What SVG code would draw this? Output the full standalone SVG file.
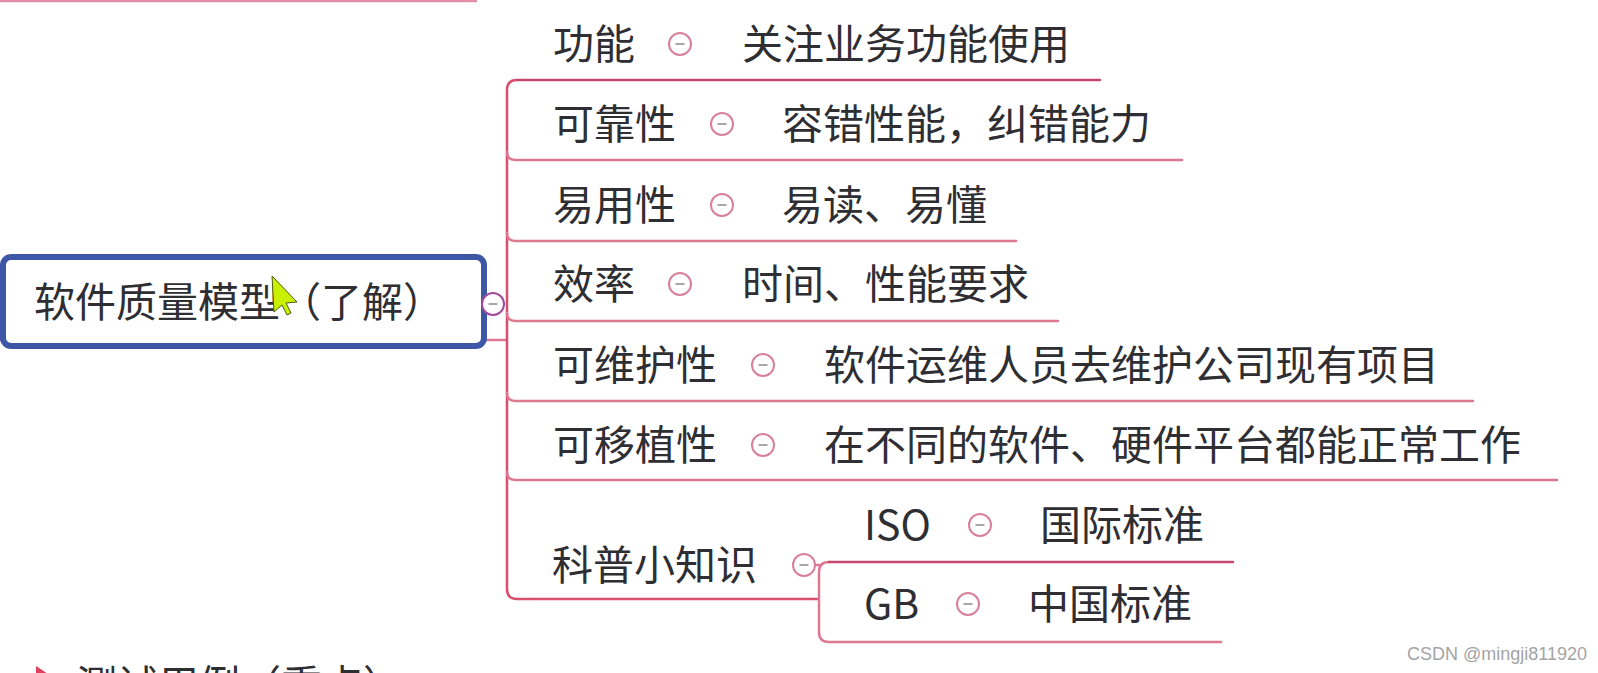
<svg xmlns="http://www.w3.org/2000/svg" width="1598" height="673" viewBox="0 0 1598 673">
  <style>
    .t { font-family: "Noto Sans CJK SC", "Noto Sans", sans-serif; font-size: 41px; fill: #2e2e33; }
    .ln { fill: none; stroke: #dc7891; stroke-width: 2.5; stroke-linecap: round; }
    .dk { stroke: #c6486e; }
    .sp { fill: none; stroke: #d9506f; stroke-width: 2.5; }
    .wm { font-family: "Liberation Sans", Arial, sans-serif; font-size: 18px; fill: #a4a4a4; }
  </style>
  <defs>
    <g id="col">
      <circle cx="0" cy="0" r="11" fill="#fff" stroke="#d9809a" stroke-width="2"/>
      <line x1="-4.5" y1="0" x2="4.5" y2="0" stroke="#a8a8a8" stroke-width="2"/>
    </g>
  </defs>
  <rect width="1598" height="673" fill="#fff"/>

  <!-- top partial underline -->
  <line x1="0" y1="1" x2="477" y2="1" stroke="#e48ea6" stroke-width="2.5"/>

  <g id="connectors">
    <line x1="0" y1="340" x2="507" y2="340" class="ln"/>
    <path class="sp" d="M517,80 Q507,80 507,90 L507,589 Q507,599 517,599 L819,599"/>
    <path class="ln dk" d="M517,80 L1100,80"/>
    <path class="ln" d="M507,152 Q507,160 515,160 L1182,160"/>
    <path class="ln" d="M507,233 Q507,241 515,241 L1016,241"/>
    <path class="ln" d="M507,313 Q507,321 515,321 L1058,321"/>
    <path class="ln" d="M507,393 Q507,401 515,401 L1473,401"/>
    <path class="ln" d="M507,472 Q507,480 515,480 L1557,480"/>
    <line x1="815" y1="565" x2="819" y2="565" class="ln"/>
    <path class="ln" d="M829,562 Q819,562 819,572 L819,632 Q819,642 829,642 L1221,642"/>
    <path class="ln dk" d="M829,562 L1233,562"/>
  </g>

  <g id="root">
    <rect x="3" y="257" width="481" height="89" rx="8" fill="#fff" stroke="#3d56a6" stroke-width="6"/>
    <text class="t" x="34" y="317">软件质量模型（了解）</text>
    <circle cx="493" cy="304" r="11" fill="#fff" stroke="#a04a9e" stroke-width="2"/>
    <line x1="488.5" y1="304" x2="497.5" y2="304" stroke="#a8a8a8" stroke-width="2"/>
  </g>

  <g id="cursor">
    <polygon points="272,276 297,302 286,303 291,313 287,315 282,305 274,312" fill="#c9f000" stroke="#4a5a10" stroke-width="1"/>
  </g>

  <g id="n-gongneng">
    <text class="t" x="553" y="59">功能</text>
    <use href="#col" x="680" y="44"/>
    <text class="t" x="742" y="59">关注业务功能使用</text>
  </g>
  <g id="n-kekaoxing">
    <text class="t" x="553" y="139">可靠性</text>
    <use href="#col" x="722" y="124"/>
    <text class="t" x="782" y="139">容错性能，纠错能力</text>
  </g>
  <g id="n-yiyongxing">
    <text class="t" x="553" y="220">易用性</text>
    <use href="#col" x="722" y="205"/>
    <text class="t" x="782" y="220">易读、易懂</text>
  </g>
  <g id="n-xiaolv">
    <text class="t" x="553" y="299">效率</text>
    <use href="#col" x="680" y="284"/>
    <text class="t" x="742" y="299">时间、性能要求</text>
  </g>
  <g id="n-keweihu">
    <text class="t" x="553" y="380">可维护性</text>
    <use href="#col" x="763" y="365"/>
    <text class="t" x="824" y="380">软件运维人员去维护公司现有项目</text>
  </g>
  <g id="n-keyizhi">
    <text class="t" x="553" y="460">可移植性</text>
    <use href="#col" x="763" y="445"/>
    <text class="t" x="824" y="460">在不同的软件、硬件平台都能正常工作</text>
  </g>
  <g id="n-kepu">
    <text class="t" x="552" y="580">科普小知识</text>
    <use href="#col" x="804" y="565"/>
  </g>
  <g id="n-iso">
    <text class="t" x="864" y="540">ISO</text>
    <use href="#col" x="980" y="525"/>
    <text class="t" x="1040" y="540">国际标准</text>
  </g>
  <g id="n-gb">
    <text class="t" x="864" y="619">GB</text>
    <use href="#col" x="968" y="604"/>
    <text class="t" x="1028" y="619">中国标准</text>
  </g>

  <g id="n-ceshi">
    <polygon points="36,666 48,674 36,682" fill="#e0405e"/>
    <text class="t" x="76" y="700">测试用例（重点）</text>
  </g>

  <text class="wm" x="1407" y="660">CSDN @mingji811920</text>
</svg>
